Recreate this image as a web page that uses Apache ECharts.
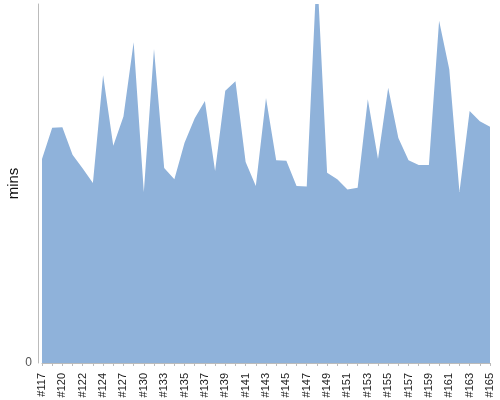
<!DOCTYPE html>
<html>
<head>
<meta charset="utf-8">
<script src="https://cdn.jsdelivr.net/npm/echarts@6/dist/echarts.min.js"></script>
<style>
    html, body { margin: 0; padding: 0; background: #fff; }
    #main { width: 500px; height: 400px; }
</style>
</head>
<body>
<div id="main"></div>
<script>
    // build numbers (x axis) and duration in minutes
    var builds = ['#117', '#119', '#120', '#121', '#122', '#123', '#124', '#126', '#127', '#129',
        '#130', '#132', '#133', '#134', '#135', '#136', '#137', '#138', '#139', '#140',
        '#141', '#142', '#143', '#144', '#145', '#146', '#147', '#148', '#149', '#150',
        '#151', '#152', '#153', '#154', '#155', '#156', '#157', '#158', '#159', '#160',
        '#161', '#162', '#163', '#164', '#165'];
    var mins = [34.1, 39.3, 39.4, 34.8, 32.5, 30.1, 48.1, 36.3, 41.2, 53.6,
        28.6, 52.5, 32.6, 30.7, 36.8, 40.9, 43.8, 32.1, 45.5, 47.1,
        33.6, 29.6, 44.3, 33.9, 33.8, 29.6, 29.5, 66, 31.8, 30.7,
        29.0, 29.3, 44.1, 34.1, 46.0, 37.6, 33.9, 33.1, 33.1, 57.2,
        49.1, 28.6, 42.1, 40.4, 39.5];
    var yMax = 60;

    var myChart = echarts.init(document.getElementById('main'));
    var option = {
        animation: false,
        grid: { left: 42, right: 10, top: 4, bottom: 37, containLabel: false, outerBoundsMode: 'none' },
        xAxis: {
            type: 'category',
            data: builds,
            boundaryGap: false,
            offset: 5,
            axisLine: { lineStyle: { color: '#bbb' } },
            axisTick: { interval: 0, length: 3, lineStyle: { color: '#bbb' } },
            axisLabel: {
                interval: 1,
                rotate: 90,
                margin: 5,
                color: '#222',
                fontSize: 11,
                fontFamily: 'Liberation Sans'
            }
        },
        yAxis: {
            type: 'value',
            min: 0,
            max: yMax,
            interval: yMax,
            offset: 4,
            name: 'mins',
            nameLocation: 'middle',
            nameMoveOverlap: false,
            nameGap: 17,
            nameTextStyle: { color: '#111', fontSize: 15, fontFamily: 'Liberation Sans' },
            axisLine: { show: true, lineStyle: { color: '#bbb' } },
            axisTick: { show: false },
            splitLine: { show: false },
            axisLabel: {
                color: '#555',
                fontSize: 12,
                margin: 6,
                fontFamily: 'Liberation Sans',
                formatter: function (v) { return v === 0 ? '0' : ''; }
            }
        },
        series: [{
            type: 'line',
            data: mins,
            symbol: 'none',
            lineStyle: { width: 0 },
            areaStyle: { color: '#8fb2da', opacity: 1 }
        }]
    };
    myChart.setOption(option);
</script>
</body>
</html>
